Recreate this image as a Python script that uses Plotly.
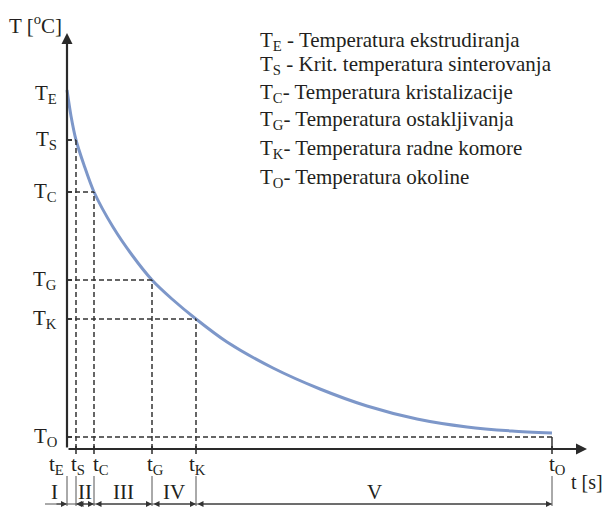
import plotly.graph_objects as go

# ---------------- data (arbitrary units) ----------------
curve_t = [0, 4, 9, 17, 27, 46, 65, 85, 105, 129, 160, 206, 253, 300, 350, 400, 445, 485]
curve_T = [359, 333, 309, 284, 257, 222, 194, 169, 150, 130, 107, 81, 60, 43, 30, 22, 18, 16]

# characteristic points S, C, G, K on the curve
point_t = [9, 27, 85, 129]
point_T = [309, 257, 169, 130]

t_E, T_E = 0, 359
t_O, T_O = 485, 12

y_tick_labels = ["T<sub>E</sub>", "T<sub>S</sub>", "T<sub>C</sub>", "T<sub>G</sub>", "T<sub>K</sub>", "T<sub>O</sub>"]
y_tick_values = [T_E] + point_T + [T_O]
x_tick_labels = ["t<sub>E</sub>", "t<sub>S</sub>", "t<sub>C</sub>", "t<sub>G</sub>", "t<sub>K</sub>", "t<sub>O</sub>"]
x_tick_values = [t_E] + point_t + [t_O]

region_names = ["I", "II", "III", "IV", "V"]
region_start = [t_E] + point_t
region_end = point_t + [t_O]

legend_lines = [
    "T<sub>E</sub> - Temperatura ekstrudiranja",
    "T<sub>S</sub> - Krit. temperatura sinterovanja",
    "T<sub>C</sub>- Temperatura kristalizacije",
    "T<sub>G</sub>- Temperatura ostakljivanja",
    "T<sub>K</sub>- Temperatura radne komore",
    "T<sub>O</sub>- Temperatura okoline",
]
y_axis_title = "T [<sup>o</sup>C]"
x_axis_title = "t [s]"

# ---------------- styling ----------------
FONT = "Liberation Serif, DejaVu Serif, serif"
TXT = "#231f20"
AX = "#2a2a2a"
DASH_C = "#333333"
CURVE_C = "#7d97c9"
FS = 21
DIM_Y = -55

fig = go.Figure()

# cooling curve
fig.add_trace(go.Scatter(x=curve_t, y=curve_T, mode="lines",
                         line=dict(color=CURVE_C, width=3, shape="spline", smoothing=0.8),
                         hoverinfo="skip", showlegend=False))

shapes = []
dash = "5px,3px"
# dashed guide lines for S, C, G, K
for t, T in zip(point_t, point_T):
    shapes.append(dict(type="line", x0=t, x1=t, y0=0, y1=T, xref="x", yref="y",
                       line=dict(color=DASH_C, width=1.5, dash=dash)))
    shapes.append(dict(type="line", x0=0, x1=t, y0=T, y1=T, xref="x", yref="y",
                       line=dict(color=DASH_C, width=1.5, dash=dash)))
# ambient temperature line
shapes.append(dict(type="line", x0=0, x1=t_O, y0=T_O, y1=T_O, xref="x", yref="y",
                   line=dict(color=DASH_C, width=1.5, dash=dash)))
shapes.append(dict(type="line", x0=t_O, x1=t_O, y0=0, y1=T_O, xref="x", yref="y",
                   line=dict(color=DASH_C, width=1.5)))
# small solid ticks
for T in y_tick_values[1:]:
    shapes.append(dict(type="line", x0=0, x1=5, y0=T, y1=T, xref="x", yref="y",
                       line=dict(color=AX, width=1.5)))
for t in x_tick_values[1:]:
    shapes.append(dict(type="line", x0=t, x1=t, y0=-5, y1=3, xref="x", yref="y",
                       line=dict(color=AX, width=1.5)))
# region boundary markers
for b in x_tick_values:
    shapes.append(dict(type="line", x0=b, x1=b, y0=-27, y1=-57, xref="x", yref="y",
                       line=dict(color="#555555", width=1)))
# dimension base line
shapes.append(dict(type="line", x0=t_E - 22, x1=t_O, y0=DIM_Y, y1=DIM_Y, xref="x", yref="y",
                   line=dict(color="#555555", width=1)))

annotations = []
# axes with arrow heads
annotations.append(dict(x=520, y=0, ax=0, ay=0, xref="x", yref="y", axref="x", ayref="y",
                        showarrow=True, arrowhead=2, arrowsize=1.0, arrowwidth=2.2,
                        arrowcolor=AX, standoff=0, text=""))
annotations.append(dict(x=0, y=416, ax=0, ay=0, xref="x", yref="y", axref="x", ayref="y",
                        showarrow=True, arrowhead=2, arrowsize=1.0, arrowwidth=2.2,
                        arrowcolor=AX, standoff=0, text=""))

# y tick labels
y_shift = [-4, 0, 0, 0, 0, 0]
for lab, v, s in zip(y_tick_labels, y_tick_values, y_shift):
    annotations.append(dict(x=-8, y=v, xref="x", yref="y", text=lab, showarrow=False,
                            xanchor="right", yanchor="middle", yshift=s,
                            font=dict(family=FONT, size=FS, color=TXT)))
# x tick labels
x_shift = [-11, 2, 7, 3, 1, 5]
for lab, v, s in zip(x_tick_labels, x_tick_values, x_shift):
    annotations.append(dict(x=v, y=-16, xref="x", yref="y", text=lab, showarrow=False,
                            xanchor="center", yanchor="middle", xshift=s,
                            font=dict(family=FONT, size=FS, color=TXT)))
# axis titles
annotations.append(dict(x=-32, y=425, xref="x", yref="y", text=y_axis_title, showarrow=False,
                        xanchor="center", yanchor="middle",
                        font=dict(family=FONT, size=FS, color=TXT)))
annotations.append(dict(x=538, y=-33, xref="x", yref="y", text=x_axis_title, showarrow=False,
                        xanchor="right", yanchor="middle",
                        font=dict(family=FONT, size=20, color=TXT)))

# regions with dimension arrows
ARR = dict(xref="x", yref="y", axref="x", ayref="y", showarrow=True, arrowhead=2,
           arrowsize=1.0, arrowwidth=1.2, arrowcolor="#333333", standoff=0, text="")
for i, name in enumerate(region_names):
    a, b = region_start[i], region_end[i]
    if i == 0:
        # narrow interval: arrows outside pointing in, label on the left
        annotations.append(dict(x=a, y=DIM_Y, ax=a - 12, ay=DIM_Y, **ARR))
        annotations.append(dict(x=b, y=DIM_Y, ax=b + 6, ay=DIM_Y, **ARR))
        lx = a - 13
    else:
        annotations.append(dict(x=b, y=DIM_Y, ax=a, ay=DIM_Y, arrowside="end+start",
                                startstandoff=0, **ARR))
        lx = (a + b) / 2
    annotations.append(dict(x=lx, y=-43, xref="x", yref="y", text=name, showarrow=False,
                            xanchor="center", yanchor="middle",
                            font=dict(family=FONT, size=FS, color=TXT)))

# explanation block
legend_y = [408, 384, 356, 329, 300, 271]
for txt, yy in zip(legend_lines, legend_y):
    annotations.append(dict(x=191, y=yy, xref="x", yref="y", text=txt, showarrow=False,
                            xanchor="left", yanchor="middle",
                            font=dict(family=FONT, size=FS, color=TXT)))

# page has an 8px body margin, so the figure is 8px smaller than the window
fig.update_layout(
    width=602, height=512, autosize=False,
    margin=dict(l=0, r=0, t=0, b=0),
    paper_bgcolor="white", plot_bgcolor="white",
    xaxis=dict(range=[-59, 543], visible=False, fixedrange=True),
    yaxis=dict(range=[-71, 441], visible=False, fixedrange=True),
    shapes=shapes, annotations=annotations, showlegend=False,
)

fig.write_html("out.html")
